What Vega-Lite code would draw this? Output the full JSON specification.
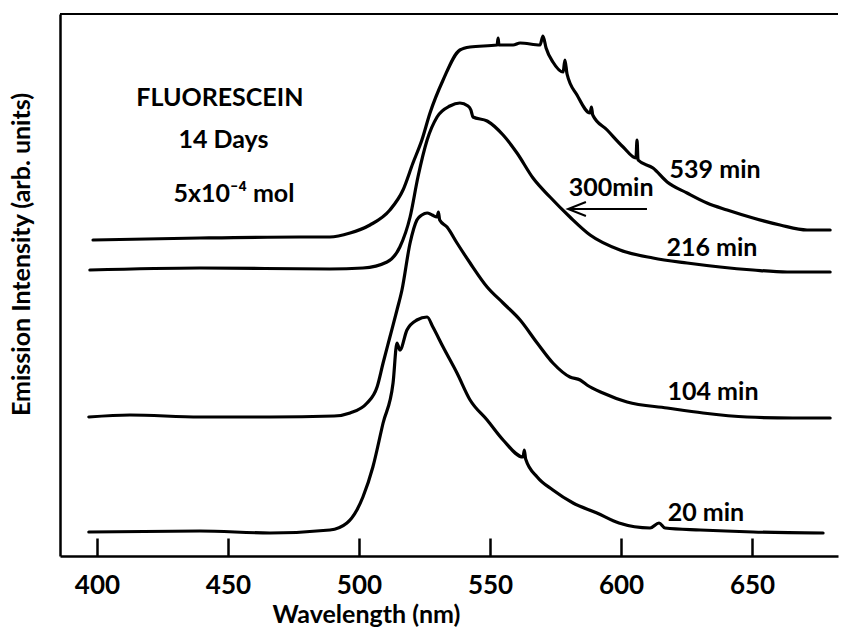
{
  "$schema": "https://vega.github.io/schema/vega-lite/v6.json",
  "width": 778,
  "height": 542,
  "autosize": {"type": "none"},
  "padding": {"left": 60, "top": 14, "right": 6, "bottom": 76},
  "background": "white",
  "config": {
    "view": {"stroke": null},
    "font": "Lato",
    "axis": {"labelFont": "Lato", "titleFont": "Lato", "grid": false}
  },
  "datasets": {
    "spectra": [
      {"s": "539", "nm": 398.5, "v": 316}, {"s": "539", "nm": 439.3, "v": 318}, {"s": "539", "nm": 477.5, "v": 319},
      {"s": "539", "nm": 488.9, "v": 319}, {"s": "539", "nm": 496.6, "v": 323}, {"s": "539", "nm": 504.2, "v": 331},
      {"s": "539", "nm": 511.8, "v": 346}, {"s": "539", "nm": 516.8, "v": 366}, {"s": "539", "nm": 520.6, "v": 393},
      {"s": "539", "nm": 524.0, "v": 416}, {"s": "539", "nm": 527.1, "v": 443}, {"s": "539", "nm": 532.1, "v": 476},
      {"s": "539", "nm": 538.5, "v": 506}, {"s": "539", "nm": 542.4, "v": 509}, {"s": "539", "nm": 552.7, "v": 511},
      {"s": "539", "nm": 553.1, "v": 518}, {"s": "539", "nm": 553.4, "v": 511}, {"s": "539", "nm": 558.8, "v": 511},
      {"s": "539", "nm": 561.5, "v": 513}, {"s": "539", "nm": 569.1, "v": 511}, {"s": "539", "nm": 570.2, "v": 520},
      {"s": "539", "nm": 571.4, "v": 508}, {"s": "539", "nm": 574.0, "v": 494}, {"s": "539", "nm": 577.9, "v": 484},
      {"s": "539", "nm": 578.6, "v": 496}, {"s": "539", "nm": 579.4, "v": 482}, {"s": "539", "nm": 583.2, "v": 461},
      {"s": "539", "nm": 588.2, "v": 443}, {"s": "539", "nm": 588.7, "v": 449}, {"s": "539", "nm": 589.2, "v": 441},
      {"s": "539", "nm": 594.7, "v": 426}, {"s": "539", "nm": 600.8, "v": 409},
      {"s": "539", "nm": 605.7, "v": 398}, {"s": "539", "nm": 606.1, "v": 416}, {"s": "539", "nm": 606.5, "v": 396},
      {"s": "539", "nm": 612.2, "v": 388}, {"s": "539", "nm": 617.6, "v": 374}, {"s": "539", "nm": 625.2, "v": 363},
      {"s": "539", "nm": 632.8, "v": 353}, {"s": "539", "nm": 640.5, "v": 346}, {"s": "539", "nm": 650.4, "v": 338},
      {"s": "539", "nm": 660.7, "v": 331}, {"s": "539", "nm": 671.0, "v": 326}, {"s": "539", "nm": 679.8, "v": 326},

      {"s": "216", "nm": 397.3, "v": 286}, {"s": "216", "nm": 439.3, "v": 288}, {"s": "216", "nm": 488.9, "v": 287},
      {"s": "216", "nm": 501.5, "v": 288}, {"s": "216", "nm": 510.7, "v": 294}, {"s": "216", "nm": 515.6, "v": 309},
      {"s": "216", "nm": 519.5, "v": 339}, {"s": "216", "nm": 522.5, "v": 379}, {"s": "216", "nm": 526.0, "v": 416},
      {"s": "216", "nm": 529.8, "v": 439}, {"s": "216", "nm": 534.7, "v": 450}, {"s": "216", "nm": 538.5, "v": 453},
      {"s": "216", "nm": 541.6, "v": 450}, {"s": "216", "nm": 542.7, "v": 446}, {"s": "216", "nm": 543.5, "v": 439},
      {"s": "216", "nm": 548.9, "v": 435}, {"s": "216", "nm": 555.0, "v": 421}, {"s": "216", "nm": 560.3, "v": 403},
      {"s": "216", "nm": 566.4, "v": 378}, {"s": "216", "nm": 572.9, "v": 359}, {"s": "216", "nm": 580.5, "v": 339},
      {"s": "216", "nm": 588.2, "v": 321}, {"s": "216", "nm": 599.6, "v": 306}, {"s": "216", "nm": 612.2, "v": 298},
      {"s": "216", "nm": 625.2, "v": 293}, {"s": "216", "nm": 637.8, "v": 289}, {"s": "216", "nm": 650.4, "v": 286},
      {"s": "216", "nm": 663.4, "v": 284}, {"s": "216", "nm": 679.8, "v": 284},

      {"s": "104", "nm": 396.9, "v": 139}, {"s": "104", "nm": 412.6, "v": 141}, {"s": "104", "nm": 439.3, "v": 139},
      {"s": "104", "nm": 466.0, "v": 139}, {"s": "104", "nm": 490.5, "v": 140}, {"s": "104", "nm": 496.6, "v": 143},
      {"s": "104", "nm": 503.1, "v": 153}, {"s": "104", "nm": 506.9, "v": 169}, {"s": "104", "nm": 509.2, "v": 193},
      {"s": "104", "nm": 511.8, "v": 219}, {"s": "104", "nm": 514.5, "v": 246}, {"s": "104", "nm": 516.4, "v": 266},
      {"s": "104", "nm": 519.5, "v": 313}, {"s": "104", "nm": 522.1, "v": 336}, {"s": "104", "nm": 524.0, "v": 341},
      {"s": "104", "nm": 526.0, "v": 343}, {"s": "104", "nm": 527.9, "v": 341}, {"s": "104", "nm": 529.8, "v": 339},
      {"s": "104", "nm": 530.3, "v": 344}, {"s": "104", "nm": 530.8, "v": 336},
      {"s": "104", "nm": 533.6, "v": 329}, {"s": "104", "nm": 537.4, "v": 313}, {"s": "104", "nm": 542.4, "v": 293},
      {"s": "104", "nm": 548.9, "v": 269}, {"s": "104", "nm": 555.0, "v": 253}, {"s": "104", "nm": 561.5, "v": 236},
      {"s": "104", "nm": 568.0, "v": 213}, {"s": "104", "nm": 574.0, "v": 193}, {"s": "104", "nm": 580.5, "v": 179},
      {"s": "104", "nm": 584.4, "v": 176}, {"s": "104", "nm": 587.0, "v": 171}, {"s": "104", "nm": 593.1, "v": 163},
      {"s": "104", "nm": 602.3, "v": 154}, {"s": "104", "nm": 617.6, "v": 148}, {"s": "104", "nm": 631.3, "v": 143},
      {"s": "104", "nm": 648.1, "v": 139}, {"s": "104", "nm": 665.6, "v": 138}, {"s": "104", "nm": 679.8, "v": 138},

      {"s": "20", "nm": 396.9, "v": 24}, {"s": "20", "nm": 439.3, "v": 25}, {"s": "20", "nm": 466.0, "v": 23},
      {"s": "20", "nm": 488.9, "v": 26}, {"s": "20", "nm": 495.4, "v": 33}, {"s": "20", "nm": 499.2, "v": 46},
      {"s": "20", "nm": 501.5, "v": 59}, {"s": "20", "nm": 505.3, "v": 89}, {"s": "20", "nm": 509.2, "v": 133},
      {"s": "20", "nm": 513.0, "v": 173}, {"s": "20", "nm": 514.5, "v": 213}, {"s": "20", "nm": 515.6, "v": 206},
      {"s": "20", "nm": 518.3, "v": 226}, {"s": "20", "nm": 522.1, "v": 236}, {"s": "20", "nm": 526.0, "v": 239},
      {"s": "20", "nm": 528.2, "v": 229}, {"s": "20", "nm": 532.1, "v": 209}, {"s": "20", "nm": 537.4, "v": 183},
      {"s": "20", "nm": 542.4, "v": 156}, {"s": "20", "nm": 548.9, "v": 136}, {"s": "20", "nm": 555.0, "v": 116},
      {"s": "20", "nm": 562.6, "v": 99}, {"s": "20", "nm": 563.1, "v": 106}, {"s": "20", "nm": 563.6, "v": 97},
      {"s": "20", "nm": 568.0, "v": 79}, {"s": "20", "nm": 574.0, "v": 66},
      {"s": "20", "nm": 581.7, "v": 53}, {"s": "20", "nm": 590.8, "v": 43}, {"s": "20", "nm": 599.2, "v": 33},
      {"s": "20", "nm": 611.1, "v": 28}, {"s": "20", "nm": 614.5, "v": 33}, {"s": "20", "nm": 616.8, "v": 28},
      {"s": "20", "nm": 630.2, "v": 26}, {"s": "20", "nm": 650.4, "v": 24}, {"s": "20", "nm": 677.1, "v": 23}
    ],
    "labels": [
      {"nm": 446.9, "v": 458, "t": "FLUORESCEIN"},
      {"nm": 448.3, "v": 416, "t": "14  Days"},
      {"nm": 452.3, "v": 362, "t": "5x10⁻⁴ mol"},
      {"nm": 635.9, "v": 386, "t": "539 min"},
      {"nm": 596.2, "v": 368, "t": "300min"},
      {"nm": 634.7, "v": 308, "t": "216  min"},
      {"nm": 635.1, "v": 164, "t": "104 min"},
      {"nm": 632.4, "v": 43, "t": "20 min"}
    ],
    "arrow": [
      {"a": "shaft", "o": 1, "nm": 579.8, "v": 347},
      {"a": "shaft", "o": 2, "nm": 609.9, "v": 347},
      {"a": "head", "o": 1, "nm": 586.6, "v": 354},
      {"a": "head", "o": 2, "nm": 579.8, "v": 347},
      {"a": "head", "o": 3, "nm": 586.6, "v": 340}
    ]
  },
  "layer": [
    {
      "data": {"name": "spectra"},
      "mark": {"type": "line", "color": "black", "strokeWidth": 3.2, "strokeJoin": "round", "strokeCap": "round", "interpolate": "monotone"},
      "encoding": {
        "x": {
          "field": "nm", "type": "quantitative",
          "scale": {"domain": [385.9, 682.8], "nice": false, "zero": false},
          "axis": {
            "values": [400, 450, 500, 550, 600, 650],
            "title": "Wavelength (nm)",
            "titleFontSize": 25, "titleFontWeight": "bold", "titleColor": "black",
            "titleX": 306, "titleY": 66, "titleBaseline": "alphabetic", "titleAlign": "center",
            "labelFontSize": 26, "labelFontWeight": "bold", "labelColor": "black", "labelBaseline": "top",
            "labelPadding": 34,
            "tickSize": -18, "tickColor": "black", "tickWidth": 2.5,
            "domainColor": "black", "domainWidth": 2.5
          }
        },
        "y": {
          "field": "v", "type": "quantitative",
          "scale": {"domain": [0, 542], "nice": false, "zero": false},
          "axis": {
            "ticks": false, "labels": false,
            "title": "Emission  Intensity (arb. units)",
            "titleFontSize": 25, "titleFontWeight": "bold", "titleColor": "black",
            "titleX": -39, "titleY": 240, "titleBaseline": "middle", "titleAlign": "center", "titleAngle": -90,
            "domainColor": "black", "domainWidth": 2.5
          }
        },
        "detail": {"field": "s"}
      }
    },
    {
      "data": {"values": [{}]},
      "mark": {"type": "rule", "color": "black", "strokeWidth": 2},
      "encoding": {"y": {"datum": 542}}
    },
    {
      "data": {"name": "arrow"},
      "mark": {"type": "line", "color": "black", "strokeWidth": 2},
      "encoding": {
        "x": {"field": "nm", "type": "quantitative"},
        "y": {"field": "v", "type": "quantitative"},
        "detail": {"field": "a"},
        "order": {"field": "o"}
      }
    },
    {
      "data": {"name": "labels"},
      "mark": {"type": "text", "fontSize": 25, "fontWeight": "bold", "color": "black", "align": "center", "baseline": "middle"},
      "encoding": {
        "x": {"field": "nm", "type": "quantitative"},
        "y": {"field": "v", "type": "quantitative"},
        "text": {"field": "t"}
      }
    }
  ]
}
